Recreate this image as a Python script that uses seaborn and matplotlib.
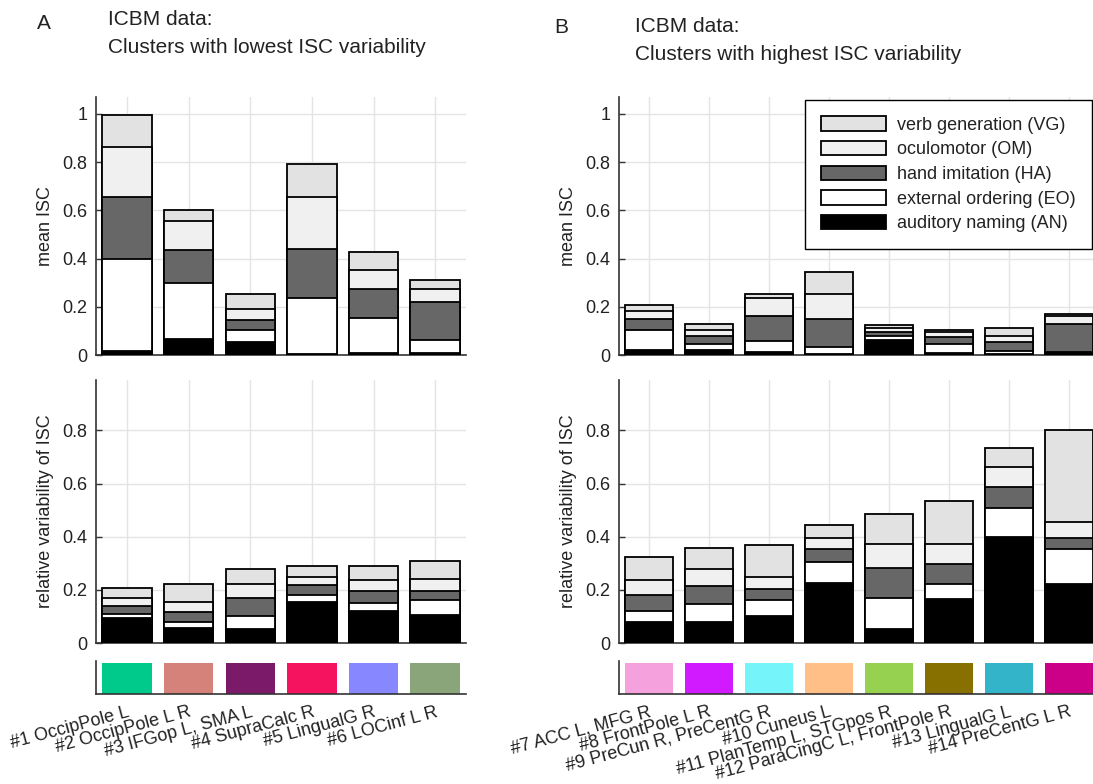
import numpy as np
import matplotlib
matplotlib.use("Agg")
import matplotlib.pyplot as plt
from matplotlib.patches import Patch
import seaborn as sns

# ---------------------------------------------------------------- data
tasks = ["auditory naming (AN)", "external ordering (EO)", "hand imitation (HA)",
         "oculomotor (OM)", "verb generation (VG)"]
task_colors = ["#000000", "#ffffff", "#676767", "#f0f0f0", "#e2e2e2"]

labels_a = ["#1 OccipPole L", "#2 OccipPole L R", "#3 IFGop L, SMA L",
            "#4 SupraCalc R", "#5 LingualG R", "#6 LOCinf L R"]
labels_b = ["#7 ACC L, MFG R", "#8 FrontPole L R", "#9 PreCun R, PreCentG R",
            "#10 Cuneus L", "#11 PlanTemp L, STGpos R", "#12 ParaCingC L, FrontPole R",
            "#13 LingualG L", "#14 PreCentG L R"]
colors_a = ["#00c98c", "#d4827a", "#7b1a68", "#f5125e", "#8787ff", "#8aa579"]
colors_b = ["#f5a1dd", "#d11aff", "#75f5fa", "#ffbf87", "#96d24f", "#877000",
            "#33b4c8", "#cc0088"]

# mean ISC, clusters with lowest variability (stacked AN, EO, HA, OM, VG)
isc_a_an = [0.018, 0.065, 0.053, 0.005, 0.008, 0.008]
isc_a_eo = [0.381, 0.232, 0.051, 0.231, 0.145, 0.056]
isc_a_ha = [0.256, 0.140, 0.043, 0.203, 0.121, 0.157]
isc_a_om = [0.209, 0.120, 0.042, 0.216, 0.077, 0.051]
isc_a_vg = [0.132, 0.043, 0.065, 0.137, 0.077, 0.040]

# relative variability of ISC, clusters with lowest variability
var_a_an = [0.095, 0.055, 0.052, 0.154, 0.120, 0.107]
var_a_eo = [0.015, 0.024, 0.051, 0.028, 0.030, 0.053]
var_a_ha = [0.030, 0.039, 0.065, 0.035, 0.047, 0.037]
var_a_om = [0.028, 0.036, 0.055, 0.030, 0.041, 0.045]
var_a_vg = [0.040, 0.067, 0.055, 0.041, 0.053, 0.065]

# mean ISC, clusters with highest variability
isc_b_an = [0.022, 0.021, 0.014, 0.003, 0.062, 0.010, 0.005, 0.010]
isc_b_eo = [0.083, 0.024, 0.043, 0.032, 0.018, 0.035, 0.012, 0.004]
isc_b_ha = [0.045, 0.034, 0.106, 0.115, 0.015, 0.030, 0.036, 0.115]
isc_b_om = [0.033, 0.026, 0.075, 0.103, 0.015, 0.020, 0.025, 0.034]
isc_b_vg = [0.024, 0.024, 0.016, 0.090, 0.015, 0.009, 0.035, 0.007]

# relative variability of ISC, clusters with highest variability
var_b_an = [0.079, 0.080, 0.103, 0.227, 0.053, 0.164, 0.400, 0.221]
var_b_eo = [0.040, 0.068, 0.058, 0.078, 0.115, 0.059, 0.110, 0.131]
var_b_ha = [0.063, 0.066, 0.044, 0.050, 0.116, 0.074, 0.077, 0.042]
var_b_om = [0.057, 0.066, 0.043, 0.042, 0.087, 0.074, 0.076, 0.062]
var_b_vg = [0.084, 0.079, 0.120, 0.049, 0.113, 0.165, 0.072, 0.347]

isc_ticks = [0, 0.2, 0.4, 0.6, 0.8, 1]
var_ticks = [0, 0.2, 0.4, 0.6, 0.8]

# ---------------------------------------------------------------- style
sns.set_theme(style="whitegrid")
plt.rcParams["font.family"] = ["Liberation Sans", "DejaVu Sans"]
plt.rcParams["axes.edgecolor"] = "#333333"

W, H = 1093, 784
fig = plt.figure(figsize=(W / 100, H / 100), dpi=100)


def px_axes(x0, x1, y_top, y_bot):
    return fig.add_axes([x0 / W, 1 - y_bot / H, (x1 - x0) / W, (y_bot - y_top) / H])


def fmt(v):
    return "0" if v == 0 else ("1" if v == 1 else f"{v:g}")


def stacked(ax, labels, layers, ymax, yticks, ylabel):
    cum = np.cumsum(np.vstack(layers), axis=0)
    for i in reversed(range(len(layers))):
        sns.barplot(x=labels, y=cum[i], order=labels, color=task_colors[i],
                    edgecolor="black", linewidth=1.3, saturation=1,
                    errorbar=None, width=0.8, ax=ax, zorder=3)
    ax.set_xlim(-0.5, len(labels) - 0.5)
    ax.set_ylim(0, ymax)
    ax.set_yticks(yticks)
    ax.set_yticklabels([fmt(v) for v in yticks])
    ax.set_xlabel("")
    ax.set_ylabel(ylabel, fontsize=13, color="#222222", labelpad=6)
    ax.tick_params(axis="x", length=0, labelbottom=False)
    ax.tick_params(axis="y", direction="in", left=True, length=4, width=1,
                   color="#333333", labelsize=13, pad=6, labelcolor="#222222")
    ax.grid(True, color="#e4e4e4", linewidth=1)
    ax.set_axisbelow(True)
    for s in ("top", "right"):
        ax.spines[s].set_visible(False)
    for s in ("left", "bottom"):
        ax.spines[s].set_color("#333333")
        ax.spines[s].set_linewidth(1.2)


def strip(ax, labels, colors):
    sns.barplot(x=labels, y=np.ones(len(labels)), order=labels, hue=labels,
                palette=colors, legend=False, saturation=1, linewidth=0,
                width=0.8, ax=ax)
    ax.set_xlim(-0.5, len(labels) - 0.5)
    ax.set_ylim(0, 1.06)
    ax.grid(False)
    ax.set_yticks([])
    ax.set_xlabel("")
    ax.set_ylabel("")
    ax.tick_params(axis="x", length=0, pad=7, labelsize=13, labelcolor="#222222")
    for lab in ax.get_xticklabels():
        lab.set_rotation(15)
        lab.set_ha("right")
        lab.set_rotation_mode("anchor")
    for s in ("top", "right"):
        ax.spines[s].set_visible(False)
    for s in ("left", "bottom"):
        ax.spines[s].set_color("#333333")
        ax.spines[s].set_linewidth(1.2)


# ---------------------------------------------------------------- panel A
ax_a1 = px_axes(96, 466, 97, 355)
stacked(ax_a1, labels_a, [isc_a_an, isc_a_eo, isc_a_ha, isc_a_om, isc_a_vg],
        1.07, isc_ticks, "mean ISC")
ax_a2 = px_axes(96, 466, 380, 643)
stacked(ax_a2, labels_a, [var_a_an, var_a_eo, var_a_ha, var_a_om, var_a_vg],
        0.99, var_ticks, "relative variability of ISC")
ax_a3 = px_axes(96, 466, 661, 694)
strip(ax_a3, labels_a, colors_a)

# ---------------------------------------------------------------- panel B
ax_b1 = px_axes(619, 1099, 97, 355)
stacked(ax_b1, labels_b, [isc_b_an, isc_b_eo, isc_b_ha, isc_b_om, isc_b_vg],
        1.07, isc_ticks, "mean ISC")
ax_b2 = px_axes(619, 1099, 380, 643)
stacked(ax_b2, labels_b, [var_b_an, var_b_eo, var_b_ha, var_b_om, var_b_vg],
        0.99, var_ticks, "relative variability of ISC")
ax_b3 = px_axes(619, 1099, 661, 694)
strip(ax_b3, labels_b, colors_b)

# legend, listed top-down as the stacks read
handles = [Patch(facecolor=task_colors[i], edgecolor="black", linewidth=1.3,
                 label=tasks[i]) for i in reversed(range(len(tasks)))]
leg = ax_b1.legend(handles=handles, loc="upper right",
                   bbox_to_anchor=(1092 / W, 1 - 100 / H),
                   bbox_transform=fig.transFigure, fontsize=13,
                   frameon=True, fancybox=False, framealpha=1,
                   edgecolor="black", handlelength=3.6, handleheight=0.85,
                   handletextpad=0.6, labelspacing=0.4, borderpad=0.9,
                   borderaxespad=0)
leg.get_frame().set_linewidth(1.0)
for t in leg.get_texts():
    t.set_color("#222222")

# ---------------------------------------------------------------- titles
def ftext(x, y, s, **kw):
    fig.text(x / W, 1 - y / H, s, va="baseline", ha="left", color="#222222", **kw)


ftext(37, 29, "A", fontsize=15)
ftext(108, 25, "ICBM data:", fontsize=15)
ftext(108, 53, "Clusters with lowest ISC variability", fontsize=15)
ftext(554, 33, "B", fontsize=15)
ftext(635, 32, "ICBM data:", fontsize=15)
ftext(635, 60, "Clusters with highest ISC variability", fontsize=15)

fig.savefig("out.png", dpi=100)
